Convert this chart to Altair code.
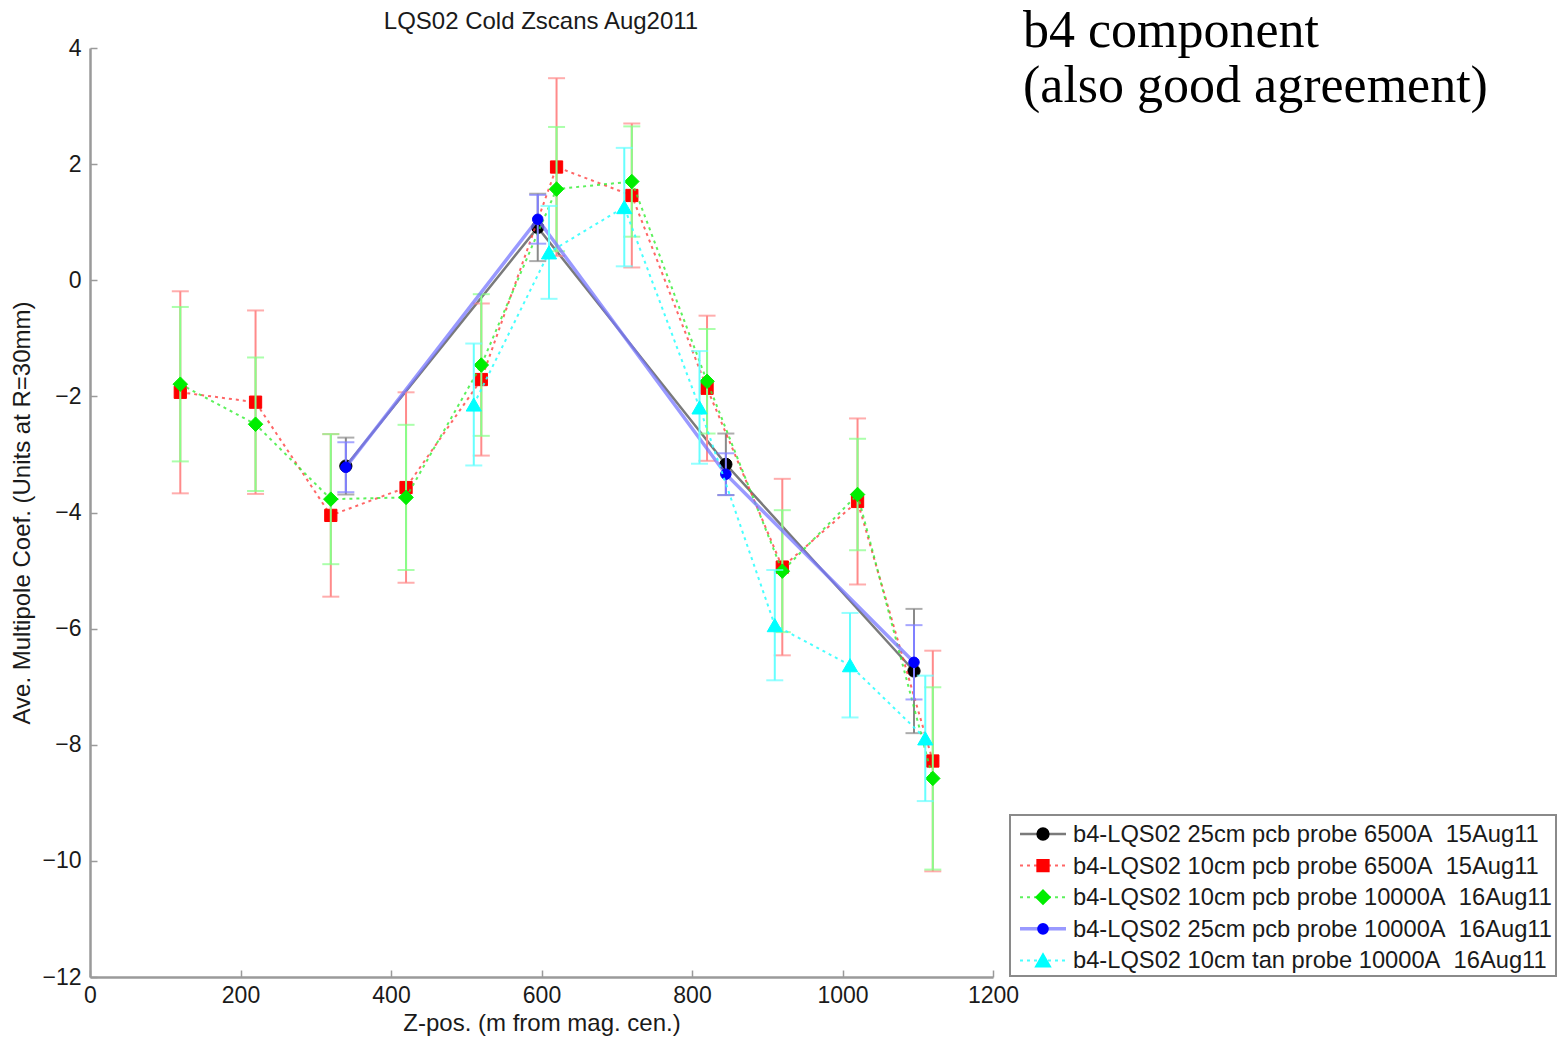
import altair as alt
import pandas as pd

# ---------------- data ----------------
series = [
    "b4-LQS02 25cm pcb probe 6500A  15Aug11",
    "b4-LQS02 10cm pcb probe 6500A  15Aug11",
    "b4-LQS02 10cm pcb probe 10000A  16Aug11",
    "b4-LQS02 25cm pcb probe 10000A  16Aug11",
    "b4-LQS02 10cm tan probe 10000A  16Aug11",
]

x_black = [340, 595, 845, 1095]
y_black = [-3.20, 0.91, -3.17, -6.73]
e_black = [0.49, 0.58, 0.53, 1.07]

x_red = [120, 220, 320, 420, 520, 620, 720, 820, 920, 1020, 1120]
y_red = [-1.93, -2.10, -4.05, -3.57, -1.71, 1.95, 1.46, -1.86, -4.94, -3.81, -8.28]
e_red = [1.74, 1.58, 1.40, 1.64, 1.31, 1.53, 1.24, 1.25, 1.52, 1.43, 1.90]

x_green = [120, 220, 320, 420, 520, 620, 720, 820, 920, 1020, 1120]
y_green = [-1.79, -2.48, -3.77, -3.74, -1.46, 1.57, 1.70, -1.74, -5.01, -3.69, -8.58]
e_green = [1.33, 1.15, 1.12, 1.25, 1.22, 1.07, 0.95, 0.90, 1.05, 0.96, 1.57]

x_blue = [340, 595, 845, 1095]
y_blue = [-3.22, 1.05, -3.34, -6.58]
e_blue = [0.43, 0.42, 0.36, 0.64]

x_cyan = [510, 610, 710, 810, 910, 1010, 1110]
y_cyan = [-2.14, 0.48, 1.26, -2.19, -5.94, -6.63, -7.89]
e_cyan = [1.05, 0.80, 1.02, 0.97, 0.95, 0.90, 1.08]

annotation = ["b4 component", "(also good agreement)"]
title_text = ["LQS02 Cold Zscans Aug2011"]
x_title = "Z-pos. (m from mag. cen.)"
y_title = "Ave. Multipole Coef. (Units at R=30mm)"
x_ticks = [0, 200, 400, 600, 800, 1000, 1200]
y_ticks = [-12, -10, -8, -6, -4, -2, 0, 2, 4]

# ---------------- styles ----------------
styles = [
    dict(pt="#000000", line="#7a7a7a", err="#8a8a8a", shape="circle", size=150, dash=None, lw=2.5, lop=1.0),
    dict(pt="#ff0000", line="#ff4040", err="#ff8a8a", shape="square", size=150, dash=[3, 4], lw=2, lop=0.8),
    dict(pt="#00ee00", line="#33ee33", err="#88ff88", shape="diamond", size=210, dash=[3, 4], lw=2, lop=0.8),
    dict(pt="#0000ff", line="#7777ff", err="#8080ff", shape="circle", size=110, dash=None, lw=3.5, lop=0.75),
    dict(pt="#00ffff", line="#33ffff", err="#66ffff", shape="triangle-up", size=230, dash=[3, 4], lw=2, lop=0.9),
]

all_x = [x_black, x_red, x_green, x_blue, x_cyan]
all_y = [y_black, y_red, y_green, y_blue, y_cyan]
all_e = [e_black, e_red, e_green, e_blue, e_cyan]

rows = []
for name, xs, ys, es in zip(series, all_x, all_y, all_e):
    for xv, yv, ev in zip(xs, ys, es):
        rows.append({"series": name, "x": xv, "y": yv, "lo": yv - ev, "hi": yv + ev})
df = pd.DataFrame(rows)
ldf = pd.DataFrame({"series": series, "label": [s.replace("  ", "\u00a0 ") for s in series]})
adf = pd.DataFrame({"txt": annotation})
tdf = pd.DataFrame({"txt": title_text})

xscale = alt.Scale(domain=[0, 1200], nice=False, zero=False)
yscale = alt.Scale(domain=[-12, 4], nice=False, zero=False)
xaxis = alt.Axis(values=x_ticks, title=x_title, format="d", labelPadding=7, titlePadding=4,
                 labelFlush=False, gridDash=[7, 4000], gridDashOffset=3085)
yaxis = alt.Axis(values=y_ticks, title=y_title, format="d", labelPadding=9, titlePadding=7,
                 labelFlush=False, gridDash=[7, 4000])


def X(f):
    return alt.X(f + ":Q", scale=xscale, axis=xaxis)


def Y(f):
    return alt.Y(f + ":Q", scale=yscale, axis=yaxis)


layers = []
for i, name in enumerate(series):
    s = styles[i]
    b = alt.Chart(df).transform_filter(alt.datum.series == name)
    layers.append(b.mark_rule(color=s["err"], strokeWidth=2).encode(x=X("x"), y=Y("lo"), y2="hi:Q"))
    layers.append(b.mark_tick(color=s["err"], orient="horizontal", size=17, thickness=2).encode(x=X("x"), y=Y("lo")))
    layers.append(b.mark_tick(color=s["err"], orient="horizontal", size=17, thickness=2).encode(x=X("x"), y=Y("hi")))
    lkw = dict(color=s["line"], strokeWidth=s["lw"], opacity=s["lop"])
    if s["dash"]:
        lkw["strokeDash"] = s["dash"]
    layers.append(b.mark_line(**lkw).encode(x=X("x"), y=Y("y"), order="x:Q"))
    layers.append(b.mark_point(shape=s["shape"], size=s["size"], filled=True, fill=s["pt"],
                               stroke=s["pt"], strokeWidth=1, opacity=1).encode(x=X("x"), y=Y("y")))

# legend (custom, matlab style)
box = alt.Chart(ldf).transform_filter(alt.datum.series == series[0]).mark_rect(
    fill="white", stroke="#8a8a8a", strokeWidth=2
).encode(x=alt.value(920), x2=alt.value(1466), y=alt.value(767), y2=alt.value(928))
layers.append(box)
for i, name in enumerate(series):
    s = styles[i]
    ly = 786 + i * 31.6
    lb = alt.Chart(ldf).transform_filter(alt.datum.series == name)
    lkw = dict(color=s["line"], strokeWidth=s["lw"], opacity=s["lop"])
    if s["dash"]:
        lkw["strokeDash"] = s["dash"]
    layers.append(lb.mark_rule(**lkw).encode(x=alt.value(930), x2=alt.value(976), y=alt.value(ly)))
    layers.append(lb.mark_point(shape=s["shape"], size=s["size"] * 0.85, filled=True, fill=s["pt"],
                                stroke=s["pt"], opacity=1).encode(x=alt.value(953), y=alt.value(ly)))
    layers.append(lb.mark_text(align="left", baseline="middle", font="Liberation Sans", fontSize=23.7,
                               color="#1a1a1a").encode(x=alt.value(983), y=alt.value(ly + 1), text="label:N"))

# annotation text
for j, txt in enumerate(annotation):
    layers.append(
        alt.Chart(adf).transform_filter(alt.datum.txt == txt).mark_text(
            align="left", baseline="alphabetic", font="Liberation Serif", fontSize=52, color="black"
        ).encode(x=alt.value(933), y=alt.value(-1 + j * 55), text="txt:N")
    )

# chart title
layers.append(
    alt.Chart(tdf).mark_text(align="center", baseline="middle", font="Liberation Sans", fontSize=24,
                             color="#1a1a1a").encode(x=alt.value(451), y=alt.value(-26), text="txt:N")
)

chart = alt.layer(*layers).properties(
    width=903, height=929,
    autosize=alt.AutoSizeParams(type="none"),
    padding={"left": 90, "top": 48, "right": 568, "bottom": 64},
).configure_view(stroke=None).configure_axis(
    domainColor="#9a9a9a", domainWidth=2.5, ticks=False, grid=True, gridColor="#9a9a9a",
    gridWidth=1.5,
    labelFont="Liberation Sans", labelFontSize=23, labelColor="#1a1a1a",
    titleFont="Liberation Sans", titleFontSize=24, titleFontWeight="normal", titleColor="#1a1a1a",
)

chart.save("out.html", embed_options={"renderer": "svg", "actions": False})
